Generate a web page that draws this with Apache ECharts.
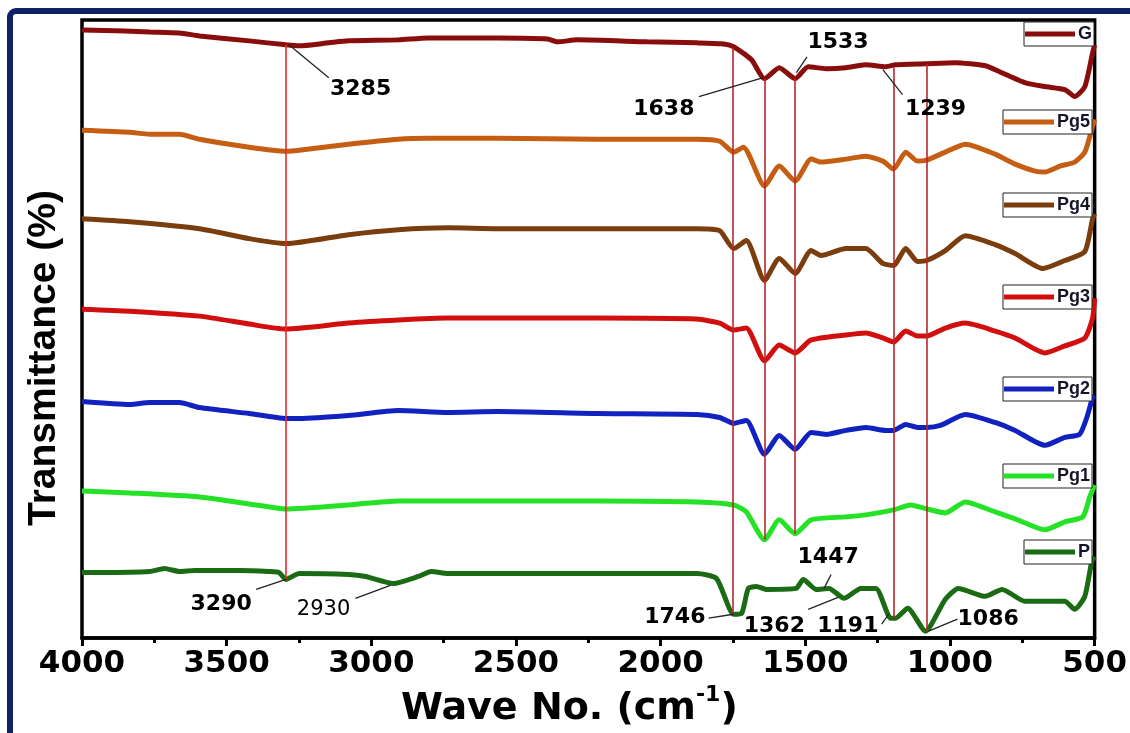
<!DOCTYPE html>
<html>
<head>
<meta charset="utf-8">
<script src="https://cdn.jsdelivr.net/npm/echarts@6/dist/echarts.min.js"></script>
<style>
html,body{margin:0;padding:0;background:#fff;}
#chart{width:1130px;height:733px;}
</style>
</head>
<body>
<div id="chart"></div>
<script>
// ---- data: [wavenumber (cm-1), offset transmittance] ----
const seriesNames = ['G', 'Pg5', 'Pg4', 'Pg3', 'Pg2', 'Pg1', 'P'];
const seriesColors = ['#8a0d0d', '#c55e12', '#7a3d0e', '#d20f0f', '#1222c0', '#26e226', '#1a6b14'];

const G = [[4000,61.2],[3852,61.1],[3766,61.0],[3663,60.9],[3594,60.6],[3422,60.1],[3295,59.7],[3250,59.6],[3147,59.9],[3079,60.1],[2907,60.2],[2804,60.4],[2563,60.4],[2391,60.3],[2357,60.0],[2288,60.2],[2047,60.0],[1875,59.9],[1790,59.8],[1748,59.5],[1686,58.2],[1641,56.3],[1590,57.4],[1535,56.3],[1490,57.5],[1428,57.3],[1360,57.4],[1291,57.7],[1222,57.5],[1188,57.7],[1085,57.8],[982,57.9],[878,57.6],[844,57.2],[741,55.9],[672,55.5],[603,55.2],[569,54.5],[534,55.5],[507,58.9],[500,59.7]];
const Pg5 = [[4000,51.1],[3835,50.9],[3766,50.7],[3663,50.7],[3594,50.2],[3422,49.4],[3295,49.0],[3250,49.1],[3079,49.7],[2907,50.2],[2804,50.3],[2563,50.3],[2219,50.2],[1875,50.2],[1796,50.0],[1748,48.9],[1714,49.4],[1641,45.5],[1590,47.5],[1535,46.0],[1480,48.2],[1446,47.9],[1360,48.2],[1291,48.5],[1232,48.0],[1195,47.2],[1153,48.9],[1112,48.0],[1081,48.1],[1016,48.9],[947,49.7],[844,48.7],[775,47.7],[706,47.0],[672,46.9],[620,47.5],[569,47.9],[534,48.9],[507,51.5],[500,52.2]];
const Pg4 = [[4000,42.2],[3835,41.9],[3594,41.2],[3422,40.2],[3295,39.7],[3079,40.6],[2907,41.1],[2735,41.3],[2563,41.2],[2219,41.2],[1875,41.2],[1796,41.0],[1748,39.2],[1704,40.0],[1641,36.0],[1590,38.2],[1535,36.7],[1480,39.0],[1446,38.5],[1360,39.2],[1291,39.2],[1232,37.7],[1195,37.5],[1153,39.2],[1112,37.9],[1081,38.0],[1016,39.0],[947,40.5],[844,39.6],[775,38.7],[679,37.2],[603,38.0],[534,38.9],[507,42.2],[500,42.7]];
const Pg3 = [[4000,33.1],[3835,32.9],[3594,32.4],[3422,31.6],[3295,31.1],[3079,31.7],[2907,32.0],[2735,32.2],[2563,32.2],[2219,32.2],[1875,32.1],[1796,31.7],[1748,31.0],[1704,31.2],[1641,27.9],[1590,29.5],[1535,28.7],[1480,30.0],[1360,30.5],[1291,30.7],[1232,30.2],[1195,29.8],[1153,30.9],[1112,30.4],[1081,30.4],[1016,31.2],[947,31.7],[844,30.9],[775,30.2],[672,28.7],[603,29.4],[534,30.2],[507,32.2],[500,34.2]];
const Pg2 = [[4000,23.8],[3835,23.5],[3766,23.7],[3663,23.7],[3594,23.2],[3422,22.6],[3295,22.1],[3250,22.1],[3079,22.4],[2907,22.9],[2735,22.7],[2563,22.8],[2219,22.6],[1875,22.5],[1796,22.2],[1748,21.6],[1704,21.9],[1641,18.5],[1590,20.4],[1535,19.0],[1480,20.7],[1428,20.5],[1360,20.9],[1291,21.2],[1222,20.9],[1195,20.9],[1153,21.5],[1112,21.2],[1081,21.2],[1033,21.4],[947,22.5],[844,21.7],[775,20.9],[672,19.4],[603,20.2],[552,20.5],[527,22.2],[507,24.2],[500,24.4]];
const Pg1 = [[4000,14.8],[3835,14.6],[3594,14.2],[3422,13.5],[3295,13.0],[3079,13.4],[2907,13.8],[2735,13.8],[2563,13.8],[2219,13.8],[1875,13.7],[1748,13.4],[1704,12.7],[1641,9.9],[1590,11.9],[1535,10.5],[1480,11.9],[1360,12.2],[1291,12.4],[1195,12.9],[1136,13.4],[1081,13.0],[1016,12.6],[947,13.7],[844,12.7],[775,12.0],[672,10.9],[603,11.7],[541,12.2],[517,14.2],[500,15.4]];
const P = [[4000,6.6],[3938,6.6],[3766,6.7],[3715,7.0],[3663,6.7],[3611,6.8],[3457,6.8],[3354,6.7],[3319,6.6],[3295,5.9],[3250,6.5],[3079,6.4],[3020,6.2],[2924,5.5],[2838,6.2],[2793,6.7],[2735,6.5],[2563,6.5],[2219,6.5],[1875,6.5],[1807,6.0],[1748,2.4],[1720,2.5],[1697,5.0],[1669,5.2],[1635,4.9],[1532,5.0],[1507,5.9],[1463,4.9],[1418,5.0],[1366,4.0],[1308,5.0],[1256,5.0],[1205,2.0],[1188,2.0],[1146,3.0],[1085,0.7],[1016,3.9],[971,5.0],[878,4.2],[820,4.9],[741,3.7],[672,3.7],[603,3.7],[569,2.9],[534,4.2],[510,7.7],[500,8.2]];
const seriesData = [G, Pg5, Pg4, Pg3, Pg2, Pg1, P];

// vertical marker lines: [wavenumber, top, bottom]
const markerLines = [[3295,59.7,5.9],[1750,59.4,2.4],[1641,56.3,9.9],[1535,56.3,10.5],[1195,57.4,2.0],[1081,57.8,0.7]];

// peak annotations: [text, label wn, label y, leader from wn, from y, to wn, to y]
const peakLabels = [
  ['3285',3037,55.2,3285,59.7,3147,56.4],
  ['1533',1387,60.0,1531,56.9,1494,58.5],
  ['1638',1989,53.2,1868,54.5,1645,56.4],
  ['1239',1050,53.2,1232,57.2,1164,54.7],
  ['3290',3519,3.4,3398,4.9,3295,5.9],
  ['2930',3165,2.9,3055,4.0,2934,5.3],
  ['1746',1951,2.1,1834,2.0,1748,2.4],
  ['1447',1421,8.1,1435,5.0,1411,6.4],
  ['1362',1607,1.2,1490,2.9,1387,4.1],
  ['1191',1353,1.2,1236,1.4,1212,2.4],
  ['1086',868,1.9,1074,0.7,974,1.9]
];

// legend box positions (left, top) per series
const legendBoxes = [[1024,22],[1003,110],[1003,193],[1003,285],[1003,377],[1003,464],[1024,540]];

const xTickInterval = 500;
const xMin = 500, xMax = 4000;

const chart = echarts.init(document.getElementById('chart'), null, {renderer:'canvas'});

const series = seriesNames.map((n, i) => ({
  name: n,
  type: 'line',
  data: seriesData[i],
  showSymbol: false,
  smooth: 0.2,
  lineStyle: {color: seriesColors[i], width: 5},
  itemStyle: {color: seriesColors[i]},
  z: 3
}));

series.push({
  name: 'markers',
  type: 'lines',
  coordinateSystem: 'cartesian2d',
  polyline: false,
  z: 4,
  lineStyle: {width: 1.6, opacity: 1},
  data: markerLines.map((m, i) => ({
    coords: [[m[0], m[1]], [m[0], m[2]]],
    lineStyle: {color: i === 0 ? '#e52a2a' : '#b8262a'}
  }))
});

series.push({
  name: 'leaders',
  type: 'lines',
  coordinateSystem: 'cartesian2d',
  z: 5,
  lineStyle: {color: '#222', width: 1.3, opacity: 1},
  data: peakLabels.map(p => ({coords: [[p[3], p[4]], [p[5], p[6]]]}))
});

series.push({
  name: 'peaks',
  type: 'scatter',
  symbolSize: 0,
  z: 6,
  itemStyle: {opacity: 1},
  data: peakLabels.map(p => ({
    name: p[0],
    value: [p[1], p[2]],
    label: p[0] === '2930' ? {fontWeight: 'normal', fontSize: 21} : {}
  })),
  label: {
    show: true,
    position: 'inside',
    formatter: '{b}',
    fontFamily: 'DejaVu Sans',
    fontWeight: 'bold',
    fontSize: 22,
    color: '#000',
    opacity: 1
  }
});

const legends = seriesNames.map((n, i) => ({
  data: [n],
  left: legendBoxes[i][0],
  top: legendBoxes[i][1],
  orient: 'horizontal',
  selectedMode: false,
  icon: 'rect',
  itemWidth: 50,
  itemHeight: 5,
  itemGap: 0,
  padding: [3, 2, 3, 1],
  borderColor: '#222',
  borderWidth: 1,
  backgroundColor: '#fff',
  textStyle: {fontFamily: 'Liberation Sans', fontWeight: 'bold', fontSize: 18, color: '#15152a', padding: [0,0,0,-2]}
}));

chart.setOption({
  animation: false,
  backgroundColor: '#fff',
  grid: {left: 82, right: 30, top: 20, bottom: 91, show: true, borderColor: '#000', borderWidth: 3.5},
  legend: legends,
  xAxis: {
    type: 'value',
    min: xMin, max: xMax, interval: xTickInterval,
    inverse: true,
    name: '{a|Wave No. (cm}{s|-1}{a|)}',
    nameLocation: 'middle',
    nameGap: 36,
    nameTextStyle: {
      padding: [0, 38, 0, 0],
      rich: {
        a: {fontFamily: 'DejaVu Sans', fontWeight: 'bold', fontSize: 38, color: '#000', verticalAlign: 'bottom', lineHeight: 44},
        s: {fontFamily: 'DejaVu Sans', fontWeight: 'bold', fontSize: 22, color: '#000', verticalAlign: 'top', lineHeight: 44, padding: [0,0,20,0]}
      }
    },
    axisLine: {show: true, lineStyle: {color: '#000', width: 3.5}},
    axisTick: {show: true, inside: false, length: 8, lineStyle: {color: '#000', width: 3}},
    minorTick: {show: true, splitNumber: 2, length: 5, lineStyle: {color: '#000', width: 3}},
    axisLabel: {fontFamily: 'DejaVu Sans', fontWeight: 'bold', fontSize: 31, color: '#000', margin: 10, formatter: v => String(v)},
    splitLine: {show: false}
  },
  yAxis: {
    type: 'value',
    min: 0, max: 62.2,
    name: 'Transmittance (%)',
    nameLocation: 'middle',
    nameGap: 18,
    nameRotate: 90,
    nameTextStyle: {fontFamily: 'Liberation Sans', fontWeight: 'bold', fontSize: 39, color: '#000', padding: [0, 58, 0, 0]},
    axisLine: {show: false},
    axisTick: {show: false},
    axisLabel: {show: false},
    splitLine: {show: false}
  },
  graphic: [{
    type: 'rect',
    z: 100,
    silent: true,
    shape: {x: 10, y: 11, width: 1200, height: 800, r: 6},
    style: {fill: 'none', stroke: '#0d2366', lineWidth: 6}
  }],
  series: series
});
</script>
</body>
</html>
